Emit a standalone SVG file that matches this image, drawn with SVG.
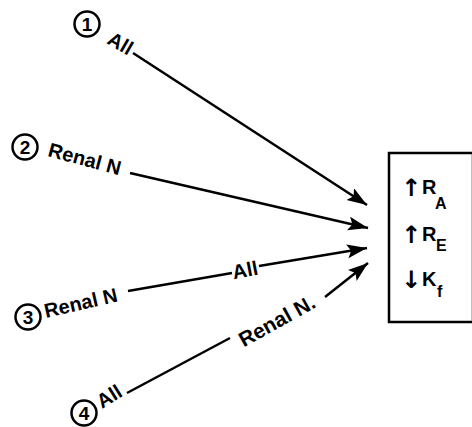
<svg xmlns="http://www.w3.org/2000/svg" width="472" height="427" viewBox="0 0 472 427">
  <defs>
    <marker id="ah" markerUnits="userSpaceOnUse" markerWidth="22" markerHeight="16" refX="20" refY="7" orient="auto">
      <path d="M0,0 L20,7 L0,14 L4,7 Z" fill="#000"/>
    </marker>
  </defs>
  <style>
    .lbl { font-family: "Liberation Sans", Arial, sans-serif; font-weight: bold; font-size: 20px; fill: #000; }
    .num { font-family: "Liberation Sans", Arial, sans-serif; font-weight: bold; font-size: 19px; fill: #000; text-anchor: middle; }
    .circ { fill: none; stroke: #000; stroke-width: 2.5; }
    .ln { stroke: #000; stroke-width: 2.5; fill: none; }
    .box { font-family: "Liberation Sans", Arial, sans-serif; font-weight: bold; font-size: 20px; fill: #000; }
    .sub { font-size: 16px; }
    .sym { font-family: "DejaVu Sans", sans-serif; font-weight: bold; font-size: 24px; }
  </style>
  <rect width="472" height="427" fill="#fff"/>

  <g id="connectors">
    <line class="ln" x1="133" y1="53" x2="367" y2="205" marker-end="url(#ah)"/>
    <line class="ln" x1="130" y1="173" x2="368" y2="228" marker-end="url(#ah)"/>
    <line class="ln" x1="128" y1="291" x2="232" y2="273"/>
    <line class="ln" x1="259" y1="266" x2="367" y2="248" marker-end="url(#ah)"/>
    <line class="ln" x1="127" y1="393" x2="230" y2="338"/>
    <line class="ln" x1="325" y1="297" x2="368" y2="263" marker-end="url(#ah)"/>
    <text class="lbl" text-anchor="middle" transform="translate(245,270) rotate(-11)" y="7">All</text>
    <text class="lbl" text-anchor="middle" transform="translate(277,321) rotate(-29)" y="7" style="font-size:21px">Renal N.</text>
  </g>

  <g id="source1">
    <circle class="circ" cx="87" cy="24" r="12.5"/>
    <text class="num" x="87" y="31">1</text>
    <text class="lbl" transform="translate(106,43) rotate(30)">All</text>
  </g>
  <g id="source2">
    <circle class="circ" cx="25" cy="147" r="12.5"/>
    <text class="num" x="25" y="154">2</text>
    <text class="lbl" transform="translate(47,156) rotate(15)">Renal N</text>
  </g>
  <g id="source3">
    <circle class="circ" cx="28" cy="317" r="12.5"/>
    <text class="num" x="28" y="324">3</text>
    <text class="lbl" transform="translate(46,318) rotate(-13)">Renal N</text>
  </g>
  <g id="source4">
    <circle class="circ" cx="84" cy="413" r="12.5"/>
    <text class="num" x="84" y="420">4</text>
    <text class="lbl" transform="translate(102,409) rotate(-32)">All</text>
  </g>

  <g id="target">
    <rect x="389" y="153" width="84" height="169" fill="none" stroke="#000" stroke-width="2.5"/>
    <text class="box" y="194"><tspan class="sym" x="401" y="196">↑</tspan><tspan x="422" y="194">R</tspan><tspan class="sub" x="435" y="209">A</tspan></text>
    <text class="box" y="241"><tspan class="sym" x="401" y="243">↑</tspan><tspan x="422" y="241">R</tspan><tspan class="sub" x="436" y="251">E</tspan></text>
    <text class="box" y="286"><tspan class="sym" x="401" y="288">↓</tspan><tspan x="422" y="286">K</tspan><tspan class="sub" x="437" y="297">f</tspan></text>
  </g>
</svg>
